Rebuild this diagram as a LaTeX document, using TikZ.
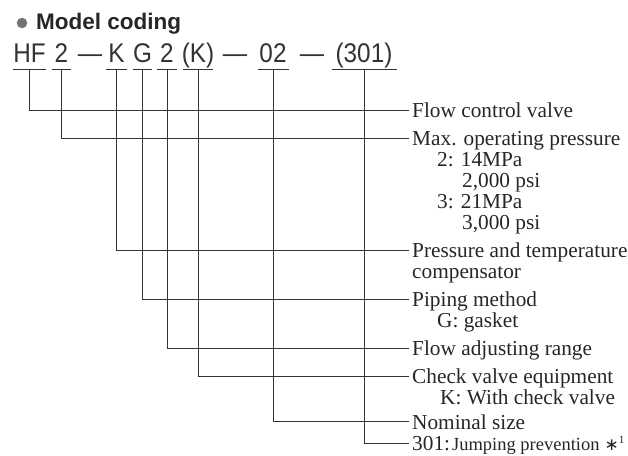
\documentclass[tikz,border=0pt]{standalone}
\usepackage{fontspec}
\setmainfont{Liberation Serif}
\newfontfamily\codefont[FakeStretch=0.9]{Liberation Sans}
\newfontfamily\titlefont{Liberation Sans}
\newfontfamily\symfont{DejaVu Sans}
\begin{document}
\begin{tikzpicture}[x=1pt,y=-1pt,
  lbl/.style={anchor=base west, inner sep=0pt, font=\fontsize{21.3}{21}\selectfont, text=black!85},
  code/.style={anchor=base, inner sep=0pt, font=\codefont\fontsize{27}{27}\selectfont, text=black!80},
  lead/.style={draw=black!80, line width=0.9pt},
  uline/.style={draw=black!80, line width=1pt}]
\useasboundingbox (0,0) rectangle (628,455);

% title
\node[circle, fill=black!55, minimum size=10.5pt, inner sep=0pt] (bullet) at (22,23) {};
\node[anchor=base west, inner sep=0pt, text=black!85, font=\titlefont\bfseries\fontsize{22.5}{22.5}\selectfont] (title) at (36,29) {Model coding};

% code line
\node[code] (c1) at (29.5,62) {HF};
\node[code] (c2) at (61.5,62) {2};
\node[code] (d1) at (90,62) {—};
\node[code] (c3) at (116.5,62) {K};
\node[code] (c4) at (142.5,62) {G};
\node[code] (c5) at (167,62) {2};
\node[code] (c6) at (198,62) {(K)};
\node[code] (d2) at (235,62) {—};
\node[code] (c7) at (273,62) {02};
\node[code] (d3) at (312,62) {—};
\node[code] (c8) at (364,62) {(301)};

% underlines
\draw[uline] ([xshift=-17pt,yshift=-7pt]c1.base) -- ([xshift=16pt,yshift=-7pt]c1.base);
\draw[uline] ([xshift=-9.5pt,yshift=-7pt]c2.base) -- ([xshift=9.5pt,yshift=-7pt]c2.base);
\draw[uline] ([xshift=-10.5pt,yshift=-7pt]c3.base) -- ([xshift=10.5pt,yshift=-7pt]c3.base);
\draw[uline] ([xshift=-9.5pt,yshift=-7pt]c4.base) -- ([xshift=9.5pt,yshift=-7pt]c4.base);
\draw[uline] ([xshift=-10pt,yshift=-7pt]c5.base) -- ([xshift=10pt,yshift=-7pt]c5.base);
\draw[uline] ([xshift=-15pt,yshift=-7pt]c6.base) -- ([xshift=15pt,yshift=-7pt]c6.base);
\draw[uline] ([xshift=-15.5pt,yshift=-7pt]c7.base) -- ([xshift=15.5pt,yshift=-7pt]c7.base);
\draw[uline] ([xshift=-32pt,yshift=-7pt]c8.base) -- ([xshift=33pt,yshift=-7pt]c8.base);

% labels
\node[lbl] (L1) at (412,117) {Flow control valve};
\node[lbl] (L2) at (412,145) {Max. operating pressure};
\node[lbl] (L2a) at (437,166) {2: 14MPa};
\node[lbl] (L2b) at (462,187) {2,000 psi};
\node[lbl] (L2c) at (437,208) {3: 21MPa};
\node[lbl] (L2d) at (462,229) {3,000 psi};
\node[lbl] (L3) at (412,257) {Pressure and temperature};
\node[lbl] (L3a) at (412,278) {compensator};
\node[lbl] (L4) at (412,306) {Piping method};
\node[lbl] (L4a) at (437,327) {G: gasket};
\node[lbl] (L5) at (412,355) {Flow adjusting range};
\node[lbl] (L6) at (412,383) {Check valve equipment};
\node[lbl] (L6a) at (440,404) {K: With check valve};
\node[lbl] (L7) at (412,429) {Nominal size};
\node[lbl] (L8) at (412,450) {301:\hspace{2pt}{\fontsize{18.5}{18.5}\selectfont Jumping prevention}\hspace{5pt}{\symfont\fontsize{17}{17}\selectfont ∗}{\fontsize{11}{11}\selectfont\raisebox{7pt}{1}}};

% leaders
\draw[lead] ([yshift=-7pt]c1.base) |- ([xshift=-3pt,yshift=7pt]L1.base west);
\draw[lead] ([yshift=-7pt]c2.base) |- ([xshift=-3pt,yshift=7pt]L2.base west);
\draw[lead] ([yshift=-7pt]c3.base) |- ([xshift=-3pt,yshift=7pt]L3.base west);
\draw[lead] ([yshift=-7pt]c4.base) |- ([xshift=-3pt,yshift=7pt]L4.base west);
\draw[lead] ([yshift=-7pt]c5.base) |- ([xshift=-3pt,yshift=7pt]L5.base west);
\draw[lead] ([yshift=-7pt]c6.base) |- ([xshift=-3pt,yshift=7pt]L6.base west);
\draw[lead] ([yshift=-7pt]c7.base) |- ([xshift=-3pt,yshift=8pt]L7.base west);
\draw[lead] ([yshift=-7pt]c8.base) |- ([xshift=-3pt,yshift=7pt]L8.base west);
\end{tikzpicture}
\end{document}
